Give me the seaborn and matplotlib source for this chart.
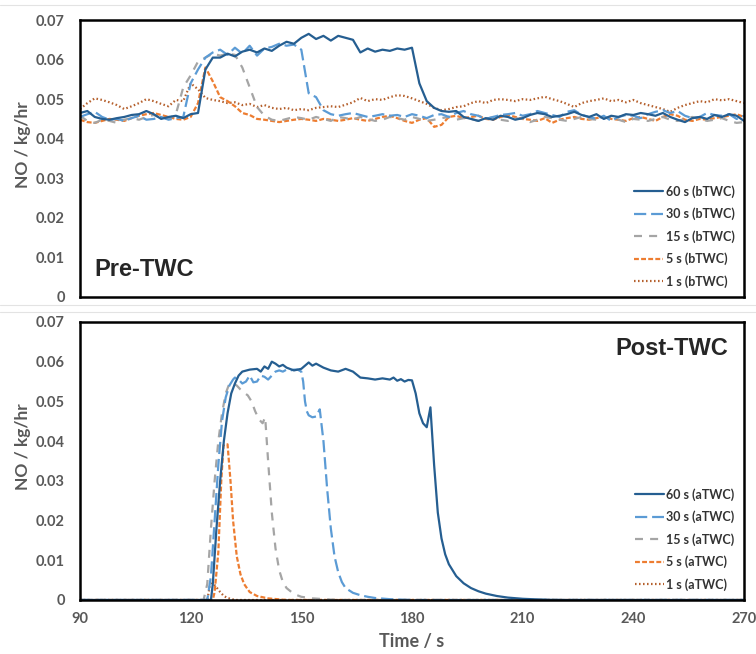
import matplotlib
matplotlib.use("Agg")
import matplotlib.pyplot as plt
import pandas as pd
import seaborn as sns
from matplotlib.lines import Line2D

# ---- data (NO in kg/hr, time in s) ----
time_pre = list(range(90, 271, 2))

pre_60 = [0.0465, 0.0470, 0.0455, 0.0450, 0.0448, 0.0452, 0.0455, 0.0460, 0.0462, 0.0470,
          0.0462, 0.0450, 0.0455, 0.0458, 0.0452, 0.0462, 0.0465, 0.0575, 0.0605, 0.0605,
          0.0615, 0.0608, 0.0620, 0.0625, 0.0618, 0.0628, 0.0622, 0.0635, 0.0645, 0.0640,
          0.0655, 0.0665, 0.0652, 0.0660, 0.0648, 0.0660, 0.0655, 0.0650, 0.0618, 0.0628,
          0.0620, 0.0625, 0.0622, 0.0628, 0.0625, 0.0630, 0.0540, 0.0495, 0.0478, 0.0470,
          0.0468, 0.0470, 0.0455, 0.0450, 0.0445, 0.0452, 0.0448, 0.0458, 0.0455, 0.0448,
          0.0452, 0.0460, 0.0465, 0.0462, 0.0455, 0.0458, 0.0462, 0.0468, 0.0460, 0.0455,
          0.0462, 0.0450, 0.0458, 0.0455, 0.0462, 0.0460, 0.0465, 0.0462, 0.0458, 0.0465,
          0.0455, 0.0448, 0.0442, 0.0452, 0.0455, 0.0450, 0.0460, 0.0455, 0.0462, 0.0458,
          0.0445]

pre_30 = [0.0455, 0.0462, 0.0468, 0.0455, 0.0448, 0.0450, 0.0445, 0.0452, 0.0458, 0.0448,
          0.0450, 0.0455, 0.0448, 0.0452, 0.0455, 0.0540, 0.0575, 0.0605, 0.0618, 0.0625,
          0.0612, 0.0630, 0.0615, 0.0635, 0.0610, 0.0628, 0.0632, 0.0640, 0.0635, 0.0638,
          0.0625, 0.0515, 0.0505, 0.0472, 0.0462, 0.0458, 0.0462, 0.0465, 0.0460, 0.0455,
          0.0458, 0.0462, 0.0458, 0.0460, 0.0455, 0.0462, 0.0458, 0.0452, 0.0460, 0.0462,
          0.0455, 0.0465, 0.0470, 0.0462, 0.0458, 0.0450, 0.0455, 0.0460, 0.0462, 0.0465,
          0.0458, 0.0462, 0.0470, 0.0465, 0.0460, 0.0455, 0.0468, 0.0472, 0.0460, 0.0455,
          0.0450, 0.0458, 0.0445, 0.0455, 0.0460, 0.0458, 0.0452, 0.0462, 0.0468, 0.0472,
          0.0465, 0.0470, 0.0458, 0.0452, 0.0455, 0.0465, 0.0460, 0.0458, 0.0462, 0.0450,
          0.0458]

pre_15 = [0.0458, 0.0445, 0.0440, 0.0448, 0.0445, 0.0440, 0.0448, 0.0452, 0.0448, 0.0455,
          0.0460, 0.0452, 0.0450, 0.0462, 0.0530, 0.0560, 0.0595, 0.0605, 0.0615, 0.0610,
          0.0615, 0.0612, 0.0580, 0.0530, 0.0480, 0.0458, 0.0448, 0.0445, 0.0450, 0.0455,
          0.0452, 0.0448, 0.0455, 0.0450, 0.0445, 0.0455, 0.0452, 0.0448, 0.0455, 0.0450,
          0.0445, 0.0448, 0.0455, 0.0452, 0.0448, 0.0455, 0.0450, 0.0445, 0.0448, 0.0452,
          0.0455, 0.0448, 0.0452, 0.0450, 0.0445, 0.0450, 0.0455, 0.0448, 0.0445, 0.0452,
          0.0450, 0.0442, 0.0448, 0.0455, 0.0452, 0.0448, 0.0445, 0.0450, 0.0455, 0.0450,
          0.0448, 0.0452, 0.0455, 0.0448, 0.0442, 0.0450, 0.0448, 0.0445, 0.0450, 0.0455,
          0.0448, 0.0445, 0.0450, 0.0455, 0.0450, 0.0445, 0.0448, 0.0452, 0.0445, 0.0440,
          0.0442]

pre_5 = [0.0448, 0.0442, 0.0440, 0.0445, 0.0450, 0.0448, 0.0445, 0.0452, 0.0458, 0.0462,
         0.0465, 0.0460, 0.0455, 0.0450, 0.0448, 0.0455, 0.0490, 0.0580, 0.0545, 0.0505,
         0.0495, 0.0482, 0.0465, 0.0460, 0.0450, 0.0448, 0.0445, 0.0442, 0.0445, 0.0448,
         0.0450, 0.0448, 0.0445, 0.0450, 0.0448, 0.0445, 0.0448, 0.0452, 0.0448, 0.0445,
         0.0450, 0.0455, 0.0458, 0.0452, 0.0445, 0.0440, 0.0448, 0.0452, 0.0430, 0.0435,
         0.0455, 0.0458, 0.0452, 0.0455, 0.0458, 0.0450, 0.0448, 0.0455, 0.0460, 0.0455,
         0.0450, 0.0448, 0.0445, 0.0452, 0.0440, 0.0448, 0.0452, 0.0455, 0.0450, 0.0448,
         0.0452, 0.0455, 0.0450, 0.0448, 0.0445, 0.0452, 0.0455, 0.0450, 0.0445, 0.0455,
         0.0462, 0.0458, 0.0448, 0.0445, 0.0450, 0.0448, 0.0452, 0.0455, 0.0458, 0.0462,
         0.0455]

pre_1 = [0.0475, 0.0490, 0.0502, 0.0498, 0.0492, 0.0485, 0.0475, 0.0482, 0.0490, 0.0500,
         0.0495, 0.0488, 0.0482, 0.0498, 0.0495, 0.0540, 0.0525, 0.0503, 0.0498, 0.0495,
         0.0490, 0.0492, 0.0485, 0.0488, 0.0480, 0.0485, 0.0478, 0.0475, 0.0478, 0.0472,
         0.0475, 0.0472, 0.0478, 0.0480, 0.0482, 0.0480, 0.0486, 0.0492, 0.0503, 0.0495,
         0.0500, 0.0498, 0.0505, 0.0510, 0.0508, 0.0502, 0.0495, 0.0488, 0.0478, 0.0472,
         0.0475, 0.0480, 0.0482, 0.0490, 0.0495, 0.0490, 0.0498, 0.0500, 0.0498, 0.0495,
         0.0500, 0.0498, 0.0502, 0.0506, 0.0500, 0.0495, 0.0488, 0.0480, 0.0490, 0.0495,
         0.0498, 0.0502, 0.0495, 0.0498, 0.0492, 0.0498, 0.0490, 0.0485, 0.0480, 0.0475,
         0.0468, 0.0478, 0.0485, 0.0490, 0.0495, 0.0492, 0.0500, 0.0497, 0.0500, 0.0495,
         0.0490]

post_60_t = [90, 125.5, 126, 127, 128, 129, 130, 131, 132, 133, 134, 136, 138, 139, 140, 141,
             142, 143, 144, 145, 146, 148, 150, 151, 152, 153, 154, 156, 158, 160, 162, 164,
             166, 168, 170, 172, 174, 175, 176, 177, 178, 179, 180, 181, 182, 183, 184, 185,
             186, 187, 188, 189, 190, 192, 194, 196, 198, 200, 203, 206, 210, 215, 220, 270]
post_60 = [0, 0, 0.004, 0.018, 0.030, 0.040, 0.047, 0.052, 0.0545, 0.0565, 0.0575, 0.0580,
           0.0582, 0.0575, 0.0588, 0.0582, 0.0600, 0.0595, 0.0588, 0.0592, 0.0585, 0.0578,
           0.0582, 0.0590, 0.0598, 0.0590, 0.0595, 0.0585, 0.0578, 0.0575, 0.0582, 0.0575,
           0.0560, 0.0558, 0.0555, 0.0558, 0.0555, 0.0560, 0.0552, 0.0556, 0.0550, 0.0554,
           0.0553, 0.0520, 0.0470, 0.0445, 0.0435, 0.0485, 0.0340, 0.0220, 0.0155, 0.0115,
           0.0090, 0.0060, 0.0042, 0.0030, 0.0022, 0.0016, 0.0010, 0.0006, 0.0003, 0.0001,
           0, 0]

post_30_t = [90, 124.5, 125.5, 126.5, 127.5, 128.5, 129.5, 130.5, 131.5, 132, 133, 134, 135,
             136, 137, 138, 139, 140, 141, 142, 143, 144, 145, 146, 147, 148, 149, 150, 150.5,
             151, 151.5, 152, 153, 154, 155, 156, 157, 158, 159, 160, 161, 162, 164, 166, 168,
             170, 174, 180, 270]
post_30 = [0, 0, 0.006, 0.020, 0.034, 0.045, 0.051, 0.054, 0.0555, 0.056, 0.0555, 0.0545,
           0.0550, 0.0565, 0.0548, 0.0550, 0.0565, 0.0562, 0.0555, 0.0565, 0.0575, 0.0578,
           0.0575, 0.0580, 0.0578, 0.0580, 0.0580, 0.0575, 0.0550, 0.0500, 0.0475, 0.0465,
           0.0460, 0.0462, 0.0480, 0.0400, 0.0280, 0.0180, 0.0110, 0.0070, 0.0045, 0.0030,
           0.0018, 0.0012, 0.0008, 0.0005, 0.0002, 0, 0]

post_15_t = [90, 123.5, 124.5, 125.5, 126.5, 127.5, 128.5, 129.5, 130.5, 131.5, 132.5, 133.5,
             134.5, 135.5, 136.5, 137.5, 138.5, 139.5, 140.2, 141, 142, 143, 144, 145, 146,
             148, 150, 153, 158, 162, 270]
post_15 = [0, 0, 0.004, 0.018, 0.030, 0.040, 0.047, 0.052, 0.0545, 0.0545, 0.0540, 0.0530,
           0.0522, 0.0515, 0.0500, 0.0475, 0.0455, 0.0445, 0.0460, 0.0350, 0.0220, 0.0130,
           0.0075, 0.0045, 0.0030, 0.0015, 0.0008, 0.0004, 0.0001, 0, 0]

post_5_t = [90, 126, 126.5, 127.5, 128.3, 128.9, 130, 130.8, 131.5, 132.5, 133.5, 134.5, 136,
            138, 141, 146, 270]
post_5 = [0, 0, 0.002, 0.012, 0.030, 0.039, 0.0392, 0.030, 0.020, 0.011, 0.0065, 0.004,
          0.002, 0.001, 0.0004, 0, 0]

post_1_t = [90, 124.5, 125.2, 126, 127, 128, 129, 130, 132, 270]
post_1 = [0, 0, 0.0035, 0.0043, 0.0032, 0.0020, 0.0010, 0.0005, 0, 0]

runs = ["60 s", "30 s", "15 s", "5 s", "1 s"]
colors = ["#255e91", "#5b9bd5", "#a5a5a5", "#ed7d31", "#b5602d"]
dash_styles = ["", (5.5, 2.2), (3.6, 3.2), (2.2, 1.0), (0.7, 1.1)]
y_ticks = [0, 0.01, 0.02, 0.03, 0.04, 0.05, 0.06, 0.07]
y_tick_labels = ["0", "0.01", "0.02", "0.03", "0.04", "0.05", "0.06", "0.07"]
x_ticks = [90, 120, 150, 180, 210, 240, 270]

pre_df = pd.concat([pd.DataFrame({"time": time_pre, "NO": v, "run": r})
                    for r, v in zip(runs, [pre_60, pre_30, pre_15, pre_5, pre_1])])
post_df = pd.concat([pd.DataFrame({"time": t, "NO": v, "run": r})
                     for r, t, v in zip(runs,
                                        [post_60_t, post_30_t, post_15_t, post_5_t, post_1_t],
                                        [post_60, post_30, post_15, post_5, post_1])])

sns.set_theme(style="white")
plt.rcParams["font.family"] = ["Lato", "DejaVu Sans"]

palette = dict(zip(runs, colors))
dashes = dict(zip(runs, dash_styles))
tick_grey = "#595959"

fig = plt.figure(figsize=(7.56, 6.54), dpi=100)
ax1 = fig.add_axes([0.1058, 0.5459, 0.8783, 0.4235])
ax2 = fig.add_axes([0.1058, 0.0826, 0.8783, 0.4251])

# faint chart-area borders like the Excel original
for yy in [5, 305, 312]:
    fig.add_artist(Line2D([0, 1], [1 - yy / 654, 1 - yy / 654], color="#e3e3e3", lw=0.8))

for ax, df, tag in [(ax1, pre_df, "bTWC"), (ax2, post_df, "aTWC")]:
    # draw back to front so the 60 s line ends on top
    sns.lineplot(data=df, x="time", y="NO", hue="run", style="run",
                 hue_order=runs[::-1], style_order=runs[::-1],
                 palette=palette, dashes=dashes, linewidth=1.6,
                 estimator=None, errorbar=None, legend=False, ax=ax)
    ax.set_xlim(90, 270)
    ax.set_ylim(0, 0.07)
    ax.set_xticks(x_ticks)
    ax.set_yticks(y_ticks)
    ax.set_yticklabels(y_tick_labels)
    ax.tick_params(length=0, labelsize=10.5, labelcolor=tick_grey, pad=11)
    for lab in ax.get_yticklabels() + ax.get_xticklabels():
        lab.set_fontweight("bold")
    for s in ax.spines.values():
        s.set_color("black")
        s.set_linewidth(1.8)
    ax.set_ylabel("NO / kg/hr", fontsize=12.5, fontweight="bold", color=tick_grey)
    ax.yaxis.set_label_coords(-0.074, 0.55)

    handles = []
    for r, c, d in zip(runs, colors, dash_styles):
        if d == "":
            handles.append(Line2D([], [], color=c, lw=1.6, linestyle="-"))
        else:
            handles.append(Line2D([], [], color=c, lw=1.6, dashes=d))
    leg = ax.legend(handles, [f"{r} ({tag})" for r in runs], loc="lower right",
                    frameon=False, prop={"weight": "bold", "size": 9},
                    handlelength=2.3, handletextpad=0.2, labelspacing=0.78,
                    borderaxespad=0.35)
    for t in leg.get_texts():
        t.set_color("#333333")

ax1.set_xlabel("")
ax1.set_xticklabels([])
ax2.set_xlabel("Time / s", fontsize=13, fontweight="bold", color=tick_grey)
ax2.xaxis.set_label_coords(0.5, -0.12)
ax2.tick_params(axis="x", pad=9)

ax1.text(0.022, 0.098, "Pre-TWC", transform=ax1.transAxes, fontsize=17,
         fontweight="bold", family="Liberation Sans", va="center", ha="left")
ax2.text(0.976, 0.906, "Post-TWC", transform=ax2.transAxes, fontsize=17,
         fontweight="bold", family="Liberation Sans", va="center", ha="right")

fig.savefig("out.png", dpi=100)
